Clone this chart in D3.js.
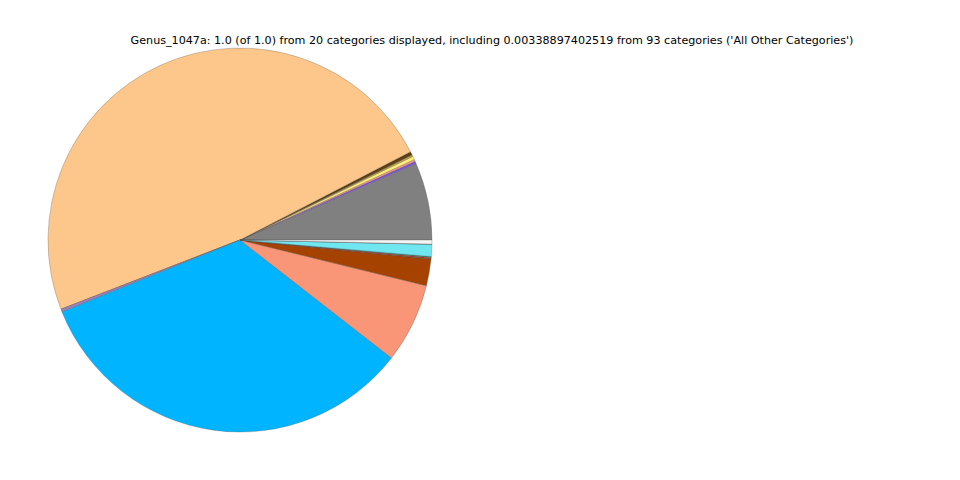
<!DOCTYPE html>
<html>
<head>
<meta charset="utf-8">
<script src="https://cdn.jsdelivr.net/npm/d3@7"></script>
<style>
  html, body { margin: 0; padding: 0; background: #fff; }
  svg { display: block; }
</style>
</head>
<body>
<svg id="chart" width="960" height="480"></svg>
<script>
const titleText = "Genus_1047a: 1.0 (of 1.0) from 20 categories displayed, including 0.00338897402519 from 93 categories ('All Other Categories')";
const categories = ["Cat01","Cat02","Cat03","Cat04","Cat05","Cat06","Cat07","Cat08","Cat09","Cat10",
                    "Cat11","Cat12","Cat13","Cat14","Cat15","Cat16","Cat17","Cat18","Cat19","All Other Categories"];
const values = [0.0653, 0.0019, 0.0017, 0.0028, 0.0014, 0.0002, 0.0028, 0.4826, 0.0002, 0.0022,
                0.3336, 0.0670, 0.0225, 0.0002, 0.0008, 0.0008, 0.0002, 0.0102, 0.0002, 0.00339];
const colors = ["#808080","#7d55d9","#f99a80","#fdf07a","#c8a040","#9a7a30","#5c3d0e","#fdc68a","#e080a0","#a080c0",
                "#00b4ff","#f99677","#a64200","#30a030","#e01010","#40a040","#2060c0","#70e6f0","#c0c0c0","#f4f4f4"];

const svg = d3.select("#chart");
const cx = 240, cy = 240, R = 192;

const pie = d3.pie().sort(null).value(d => d.v)
  .startAngle(Math.PI / 2).endAngle(Math.PI / 2 - 2 * Math.PI);
const data = categories.map((c, i) => ({ c, v: values[i], col: colors[i] }));
const arc = d3.arc().innerRadius(0).outerRadius(R);

svg.append("g").attr("transform", `translate(${cx},${cy})`)
  .selectAll("path").data(pie(data)).enter().append("path")
  .attr("d", arc)
  .attr("fill", d => d.data.col)
  .attr("stroke", "#555")
  .attr("stroke-width", 0.3);

svg.append("text")
  .attr("x", 492).attr("y", 44)
  .attr("text-anchor", "middle")
  .attr("font-family", "DejaVu Sans")
  .attr("font-size", 11.15)
  .attr("fill", "#000")
  .text(titleText);
</script>
</body>
</html>
